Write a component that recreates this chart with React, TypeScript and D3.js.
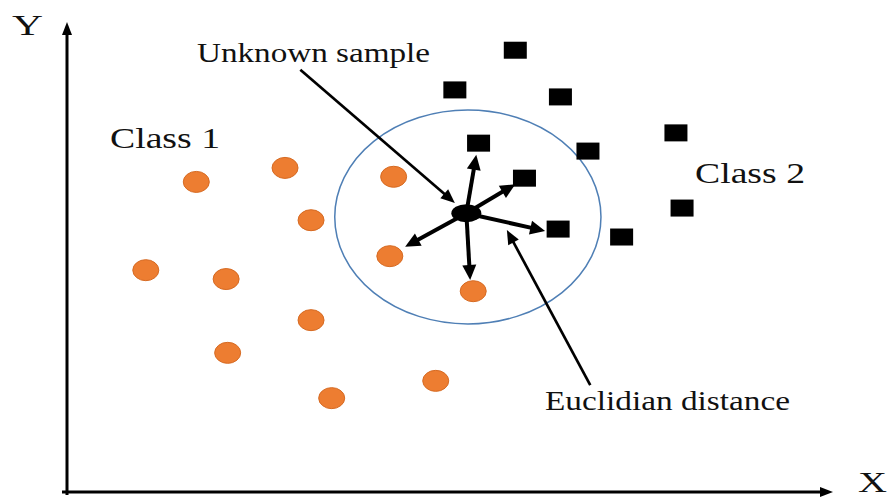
import React from 'react'
import * as d3 from 'd3'

// class 1 (orange) samples, in axis units 0..100
const class1X = [16.9, 28.5, 42.7, 31.9, 10.3, 20.8, 42.2, 53.1, 31.9, 21.0, 34.6, 48.2]
const class1Y = [66.4, 69.4, 67.5, 58.2, 47.5, 45.6, 50.5, 43.0, 36.8, 29.8, 20.1, 23.8]

// class 2 (black squares)
const class2X = [58.6, 50.7, 64.5, 53.8, 79.6, 68.1, 59.8, 80.4, 64.2, 72.5]
const class2Y = [94.6, 86.1, 84.6, 74.7, 76.9, 73.0, 67.2, 60.8, 56.3, 54.6]

// unknown sample and arrow tips towards its neighbours
const unknownX = 52.2
const unknownY = 59.7
const neighbourX = [53.5, 58.6, 62.5, 44.2, 52.7]
const neighbourY = [72.2, 65.9, 55.9, 52.5, 45.4]

// neighbourhood ring
const ringX = 52.4
const ringY = 58.9
const ringRX = 17.4
const ringRY = 22.9

// annotation pointers [fromX, fromY, toX, toY]
const pointerUnknown = [30.5, 90.4, 50.7, 61.9]
const pointerDistance = [68.4, 22.9, 57.5, 56.1]

const W = 888
const H = 497

const xS = d3.scaleLinear().domain([0, 100]).range([67, 832])
const yS = d3.scaleLinear().domain([0, 100]).range([492, 25])

// line with a filled triangular head, shortened so the stroke doesn't poke out
function arrow(x1: number, y1: number, x2: number, y2: number, len: number, half: number) {
  const dx = x2 - x1
  const dy = y2 - y1
  const d = Math.hypot(dx, dy)
  const ux = dx / d
  const uy = dy / d
  const bx = x2 - ux * len
  const by = y2 - uy * len
  const line = d3.path()
  line.moveTo(x1, y1)
  line.lineTo(x2 - ux * len * 0.7, y2 - uy * len * 0.7)
  const head = d3.path()
  head.moveTo(x2, y2)
  head.lineTo(bx - uy * half, by + ux * half)
  head.lineTo(bx + uy * half, by - ux * half)
  head.closePath()
  return { line: line.toString(), head: head.toString() }
}

const font = "'Liberation Serif', 'Times New Roman', 'DejaVu Serif', serif"

export default function App() {
  const axisX = arrow(xS(0) - 5, yS(0), xS(100) + 1, yS(0), 13, 5)
  const axisY = arrow(xS(0), yS(0) + 3, xS(0), yS(100) - 3, 13, 5)
  const neighbours = neighbourX.map((nx, i) =>
    arrow(xS(unknownX), yS(unknownY), xS(nx), yS(neighbourY[i]), 15, 7))
  const p1 = arrow(xS(pointerUnknown[0]), yS(pointerUnknown[1]), xS(pointerUnknown[2]), yS(pointerUnknown[3]), 14, 6)
  const p2 = arrow(xS(pointerDistance[0]), yS(pointerDistance[1]), xS(pointerDistance[2]), yS(pointerDistance[3]), 14, 6)

  const txt = { fontFamily: font, fill: '#111' }

  return (
    <svg width={W} height={H} style={{ position: 'absolute', left: 0, top: 0, background: '#fff' }}>
      {/* axes */}
      <path d={axisX.line} stroke="#000" strokeWidth={3} fill="none" />
      <path d={axisX.head} fill="#000" />
      <path d={axisY.line} stroke="#000" strokeWidth={3} fill="none" />
      <path d={axisY.head} fill="#000" />

      {/* neighbourhood ring */}
      <ellipse
        cx={xS(ringX)} cy={yS(ringY)}
        rx={xS(ringX + ringRX) - xS(ringX)} ry={yS(ringY) - yS(ringY + ringRY)}
        fill="none" stroke="#4F7FB5" strokeWidth={1.5}
      />

      {class1X.map((cx, i) => (
        <ellipse key={'c' + i} cx={xS(cx)} cy={yS(class1Y[i])} rx={13} ry={10.5}
          fill="#ED7D31" stroke="#D66A22" strokeWidth={1} />
      ))}

      {class2X.map((cx, i) => (
        <rect key={'s' + i} x={xS(cx) - 11.5} y={yS(class2Y[i]) - 8.5} width={23} height={17} fill="#000" />
      ))}

      {neighbours.map((a, i) => (
        <g key={'n' + i}>
          <path d={a.line} stroke="#000" strokeWidth={4} fill="none" />
          <path d={a.head} fill="#000" />
        </g>
      ))}

      <ellipse cx={xS(unknownX)} cy={yS(unknownY)} rx={15} ry={9} fill="#000" />

      <path d={p1.line} stroke="#000" strokeWidth={2.7} fill="none" />
      <path d={p1.head} fill="#000" />
      <path d={p2.line} stroke="#000" strokeWidth={2.7} fill="none" />
      <path d={p2.head} fill="#000" />

      <text style={txt} x={12} y={35} fontSize={29} textLength={31} lengthAdjust="spacingAndGlyphs">Y</text>
      <text style={txt} x={858} y={492} fontSize={29} textLength={29} lengthAdjust="spacingAndGlyphs">X</text>
      <text style={txt} x={197} y={62} fontSize={27} textLength={233} lengthAdjust="spacingAndGlyphs">Unknown sample</text>
      <text style={txt} x={110} y={148} fontSize={29} textLength={110} lengthAdjust="spacingAndGlyphs">Class 1</text>
      <text style={txt} x={695} y={183} fontSize={29} textLength={110} lengthAdjust="spacingAndGlyphs">Class 2</text>
      <text style={txt} x={545} y={410} fontSize={27} textLength={245} lengthAdjust="spacingAndGlyphs">Euclidian distance</text>
    </svg>
  )
}
